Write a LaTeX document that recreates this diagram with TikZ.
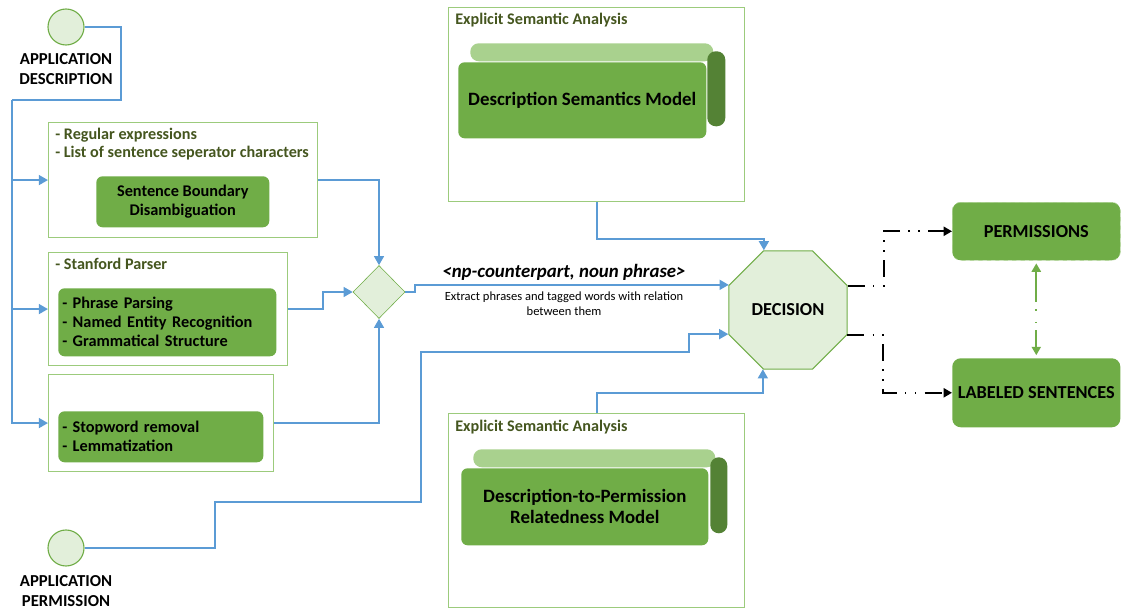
\documentclass[tikz,border=0pt]{standalone}
\usepackage{fontspec}
\setmainfont{Carlito}
\usetikzlibrary{shapes.geometric,arrows.meta}

\definecolor{leaf}{HTML}{70AD47}
\definecolor{leafpale}{HTML}{E2EFDA}
\definecolor{leaflight}{HTML}{A9D18E}
\definecolor{leafdark}{HTML}{548235}
\definecolor{frameline}{HTML}{9CCB7C}
\definecolor{olive}{HTML}{45561F}
\definecolor{flowblue}{HTML}{5B9BD5}

% one unit of the picture
\newcommand{\pxl}{0.025cm}
\newcommand{\fs}[2]{\fontsize{#1}{#2}\selectfont}

\tikzset{
	flow/.style = {draw = flowblue, line width = 1.4pt, -{Triangle[length = 6.5pt, width = 7pt]}},
	wire/.style = {draw = flowblue, line width = 1.4pt},
	result/.style = {line width = 1.4pt, dash pattern = on 12pt off 6pt on 1pt off 6pt on 1pt off 6pt, -{Triangle[length = 6pt, width = 6.5pt]}},
	frame/.style = {draw = frameline, line width = 0.8pt, fill = white, anchor = north west, inner sep = 0pt},
	stage/.style = {fill = leaf, rounded corners = 4.5pt, anchor = north west, text = black, font = \fs{11.6}{14}\bfseries},
	steps/.style = {stage, align = left, inner xsep = 0.1cm, font = \fs{11.6}{13.5}\bfseries},
	model/.style = {stage, align = center, font = \fs{13.4}{15}\bfseries},
	header/.style = {text = olive, anchor = west, align = left, inner sep = 0pt, font = \fs{11.5}{12.8}\bfseries},
	terminal/.style = {circle, draw = leaf, fill = leafpale, line width = 0.8pt, minimum size = 36*\pxl, inner sep = 0pt},
	caption/.style = {align = center, inner sep = 0pt, font = \fs{11.9}{14.2}\bfseries},
	bar/.style = {anchor = north west, inner sep = 0pt, rounded corners = 6pt},
	outcome/.style = {fill = leaf, rounded corners = 6pt, anchor = north west, minimum width = 168*\pxl, font = \fs{13}{15}\bfseries}
}

\begin{document}
\begin{tikzpicture}[x = \pxl, y = -\pxl]
		\useasboundingbox (0, 0) rectangle (1122, 610);

		% inputs
		\node[terminal] (adesc) at (66, 27) {};
		\node[caption] (adesctxt) at (66, 69) {APPLICATION\\DESCRIPTION};
		\node[terminal] (aperm) at (66, 548) {};
		\node[caption] (apermtxt) at (66, 591) {APPLICATION\\PERMISSION};

		% preprocessing
		\node[frame, minimum width = 269*\pxl, minimum height = 115*\pxl] (splitbox) at (48, 122) {};
		\node[header] at (55, 144) {- Regular expressions\\- List of sentence seperator characters};
		\node[stage, align = center, minimum width = 173*\pxl, minimum height = 51*\pxl] (sbd) at (96, 176) {Sentence Boundary\\Disambiguation};

		\node[frame, minimum width = 239*\pxl, minimum height = 113*\pxl] (parsebox) at (48, 252) {};
		\node[header] at (55, 264) {- Stanford Parser};
		\node[steps, text width = 5.25cm, minimum height = 68*\pxl] (parse) at (58, 288) {- Phrase Parsing\\- Named Entity Recognition\\- Grammatical Structure};

		\node[frame, minimum width = 225*\pxl, minimum height = 97*\pxl] (stopbox) at (48, 374) {};
		\node[steps, text width = 4.925cm, minimum height = 51*\pxl] (stop) at (58, 411) {- Stopword removal\\- Lemmatization};

		\node[diamond, draw = leaf, fill = leafpale, minimum width = 52*\pxl, minimum height = 53*\pxl, inner sep = 0pt] (gate) at (379, 292) {};

		\node[font = \fs{13.4}{15}\bfseries\itshape] (rel) at (564, 272) {<np-counterpart, noun phrase>};
		\node[font = \fs{8.9}{10.6}, align = center] (reltxt) at (564, 303.5) {Extract phrases and tagged words with relation\\between them};

		% semantic models
		\node[frame, minimum width = 296*\pxl, minimum height = 194*\pxl] (esatop) at (448, 7) {};
		\node[header] at (455, 20) {Explicit Semantic Analysis};
		\node[bar, fill = leaflight, minimum width = 243*\pxl, minimum height = 18*\pxl] (topbar) at (470, 43) {};
		\node[bar, fill = leafdark, minimum width = 18*\pxl, minimum height = 75*\pxl] (topside) at (707, 51) {};
		\node[model, minimum width = 248*\pxl, minimum height = 76*\pxl] (semmodel) at (458, 62) {Description Semantics Model};

		\node[frame, minimum width = 296*\pxl, minimum height = 194*\pxl] (esabot) at (448, 413) {};
		\node[header] at (455, 427) {Explicit Semantic Analysis};
		\node[bar, fill = leaflight, minimum width = 242*\pxl, minimum height = 18*\pxl] (botbar) at (473, 449) {};
		\node[bar, fill = leafdark, minimum width = 17*\pxl, minimum height = 76*\pxl] (botside) at (710, 457) {};
		\node[model, minimum width = 247*\pxl, minimum height = 77*\pxl] (relmodel) at (461, 468) {Description-to-Permission\\Relatedness Model};

		% decision and outputs
		\node[regular polygon, regular polygon sides = 8, minimum size = 128*\pxl, inner sep = 0pt, draw = leaf, fill = leafpale, line width = 0.8pt, font = \fs{13}{15}\bfseries] (decision) at (788, 310) {DECISION};

		\node[outcome, draw = leaflight, dashed, minimum height = 58*\pxl] (perm) at (952, 202) {PERMISSIONS};
		\node[outcome, minimum height = 69*\pxl] (labeled) at (952, 358) {LABELED SENTENCES};

		% edges
		\coordinate (bend) at (121, 100);
		\coordinate (spine) at (12, 100);
		\draw[wire] (adesc.east) -| (bend) -- (spine);
		\draw[flow] (spine) |- (splitbox.west);
		\draw[flow] (spine) |- (parsebox.west);
		\draw[flow] (spine) |- (stopbox.west);

		\draw[flow] (splitbox.east) -| (gate.north);
		\draw[flow] (parsebox.east) -- ++(35, 0) |- (gate.west);
		\draw[flow] (stopbox.east) -| (gate.south);

		\draw[flow] (gate.east) -- ++(10, 0) |- (decision.157.5);
		\draw[flow] (esatop.south) -- ++(0, 37) -| (decision.112.5);
		\draw[flow] (esabot.north) -- ++(0, -20) -| (decision.247.5);
		\draw[flow] (aperm.east) -- ++(130, 0) -- ++(0, -46) -- ++(206, 0) -- ++(0, -150) -- ++(268, 0) |- (decision.202.5);

		\draw[result] (decision.22.5) -- ++(36, 0) |- (perm.west);
		\draw[result] (decision.337.5) -- ++(36, 0) |- (labeled.west);
		\draw[draw = leaf, line width = 1.4pt, dash pattern = on 22pt off 5pt on 1pt off 8pt on 1pt off 5pt, {Triangle[length = 6pt, width = 6.5pt]}-{Triangle[length = 6pt, width = 6.5pt]}, shorten <= 2pt, shorten >= 2pt] (perm.south) -- (labeled.north);

		\end{tikzpicture}
\end{document}
